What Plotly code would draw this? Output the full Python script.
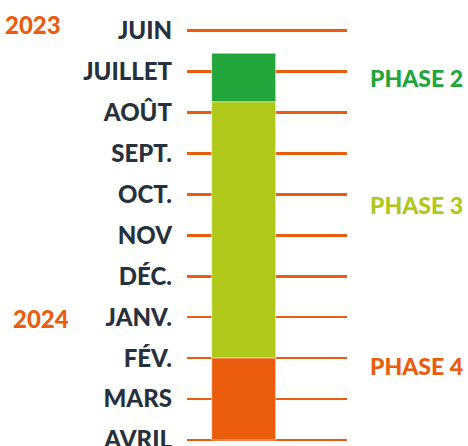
import plotly.graph_objects as go

months = ["JUIN", "JUILLET", "AOÛT", "SEPT.", "OCT.", "NOV", "DÉC.", "JANV.", "FÉV.", "MARS", "AVRIL"]
month_idx = list(range(len(months)))

phases = ["PHASE 2", "PHASE 3", "PHASE 4"]
phase_start = [0.55, 1.74, 8.0]
phase_end = [1.74, 8.0, 10.0]
phase_colors = ["#22A53A", "#AFC81A", "#EA5C0E"]
phase_label_pos = [1.15, 4.26, 8.2]

years = ["2023", "2024"]
year_pos = [-0.16, 7.02]

ORANGE = "#EA5C0E"
DARK = "#27313D"
FONT = "Lato"

fig = go.Figure()
for name, s, e, c in zip(phases, phase_start, phase_end, phase_colors):
    fig.add_trace(go.Bar(
        x=[0], y=[e - s], base=[s], width=[1],
        marker=dict(color=c, line=dict(color="rgba(255,255,255,0.5)", width=1)),
        name=name, showlegend=False, hoverinfo="skip",
    ))

for name, yp, c in zip(phases, phase_label_pos, phase_colors):
    fig.add_annotation(x=1.13, xref="paper", y=yp, yref="y", text=name,
                       showarrow=False, xanchor="left", yanchor="middle",
                       font=dict(family=FONT, size=23, color=c, weight=900))

year_x = [-0.775, -0.728]
for t, yp, xp in zip(years, year_pos, year_x):
    fig.add_annotation(x=xp, xref="paper", y=yp, yref="y", text=t,
                       showarrow=False, xanchor="right", yanchor="middle",
                       font=dict(family=FONT, size=24, color=ORANGE, weight=900))

fig.update_layout(
    width=468, height=446,
    margin=dict(l=187, r=121, t=20, b=0, autoexpand=False),
    paper_bgcolor="white", plot_bgcolor="white",
    barmode="overlay",
    xaxis=dict(range=[-0.886, 1.614], visible=False, fixedrange=True, automargin=False),
    yaxis=dict(range=[10.147, -0.261], tickvals=month_idx, ticktext=months,
               showgrid=True, gridcolor=ORANGE, gridwidth=2.5, zeroline=False,
               showline=False, ticks="", ticklabelstandoff=14, automargin=False,
               ticklabeloverflow="allow", fixedrange=True,
               tickfont=dict(family=FONT, size=24, color=DARK, weight=900)),
)

fig.write_html("out.html",
               config={"displayModeBar": False, "staticPlot": True},
               post_script="document.body.style.margin='0';document.body.style.overflow='hidden';")
